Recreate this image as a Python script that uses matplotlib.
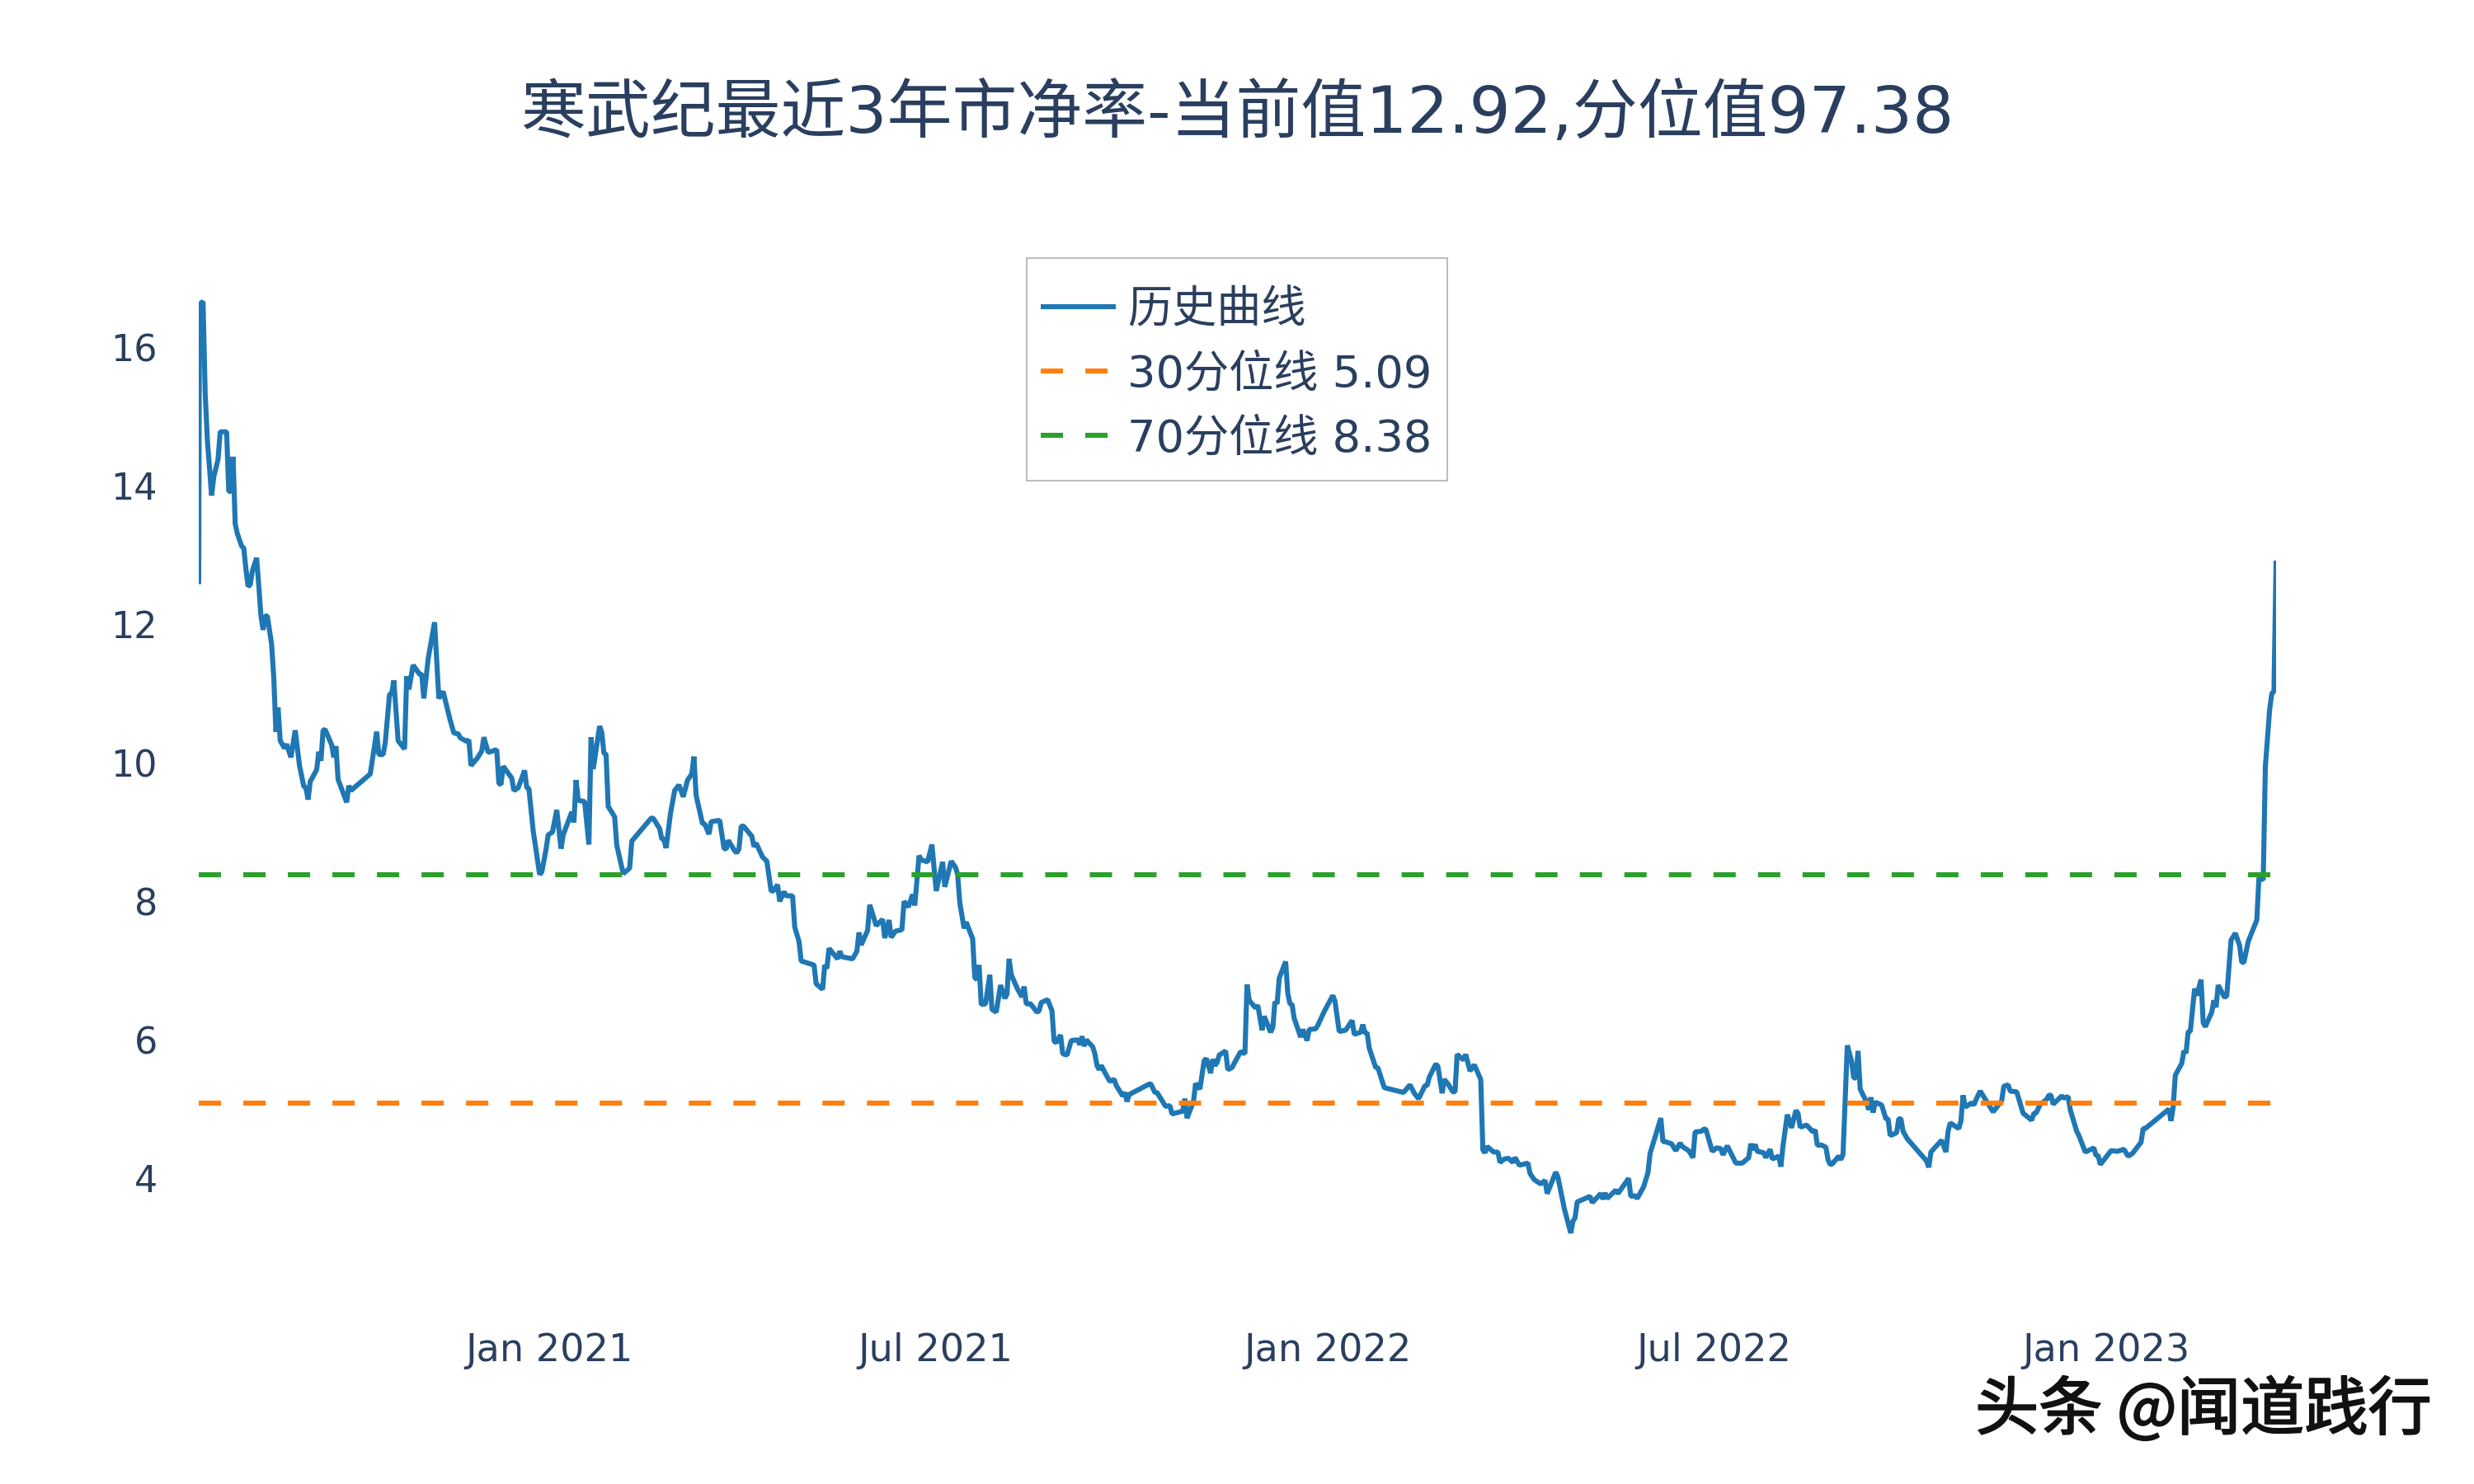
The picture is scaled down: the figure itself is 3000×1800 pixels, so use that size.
import numpy as np
import pandas as pd
import matplotlib
matplotlib.use("Agg")
import matplotlib.pyplot as plt
import matplotlib.patheffects as pe
from matplotlib.patches import Rectangle

# calendar days since listing
days = [0, 0.3, 1, 2, 3, 4, 6, 7, 9, 10, 13, 14, 15, 16, 17, 18, 20, 21, 22, 23, 24, 25, 27, 28, 29, 30, 31, 32, 34, 35, 36, 37, 38,
        40, 41, 43, 45, 47, 49, 50, 51, 52, 55, 56, 57, 58, 59, 62, 63, 64, 65, 69, 70, 71, 80, 83, 84, 86, 87, 89, 90, 91, 93, 96, 97, 98,
        100, 103, 104, 105, 107, 110, 112, 114, 117, 119, 121, 122, 125, 126, 127, 130, 132, 133, 135, 139, 140, 141, 142, 146, 147, 149,
        152, 153, 154, 156, 159, 160, 162, 163, 165, 167, 169, 170, 174, 175, 176, 177, 180, 182, 183, 184, 187, 188, 189, 190, 191, 194, 195, 198,
        201, 202, 211, 212, 215, 216, 217, 218,
        220, 222, 224, 226, 228, 230, 231, 232, 235, 236, 238, 239, 243, 245, 246, 247, 250, 251, 252, 253, 254, 258, 259, 260, 263, 265, 267, 268,
        270, 271, 273, 274, 277, 278, 280, 281, 287, 288, 291, 292, 293, 294, 298, 299, 300, 305, 307, 308, 309, 312, 313, 316, 319, 320, 322, 323, 325, 328, 329,
        331, 333, 334, 336, 337, 340, 342, 344, 347, 348, 351, 353, 354, 355, 357, 358, 361, 362, 363, 364, 365, 367, 369, 370, 372, 374, 376, 377, 378, 379,
        382, 384, 385, 386, 388, 391, 392, 393, 396, 398, 399, 400, 402, 403, 405, 407, 410, 411, 412, 413, 414, 417, 418, 419, 420, 421, 423, 425, 427, 428,
        431, 432, 433, 434, 442, 444, 446, 447, 448, 451, 453, 454, 459, 460, 461, 464, 465, 467, 469, 470, 472, 473, 474, 475, 476, 479, 480, 482, 483, 486, 488,
        489, 490, 493, 494, 495, 496, 497, 500, 501, 502, 503, 504, 507, 508, 509, 510, 511, 514, 515, 517, 518, 521, 522,
        525, 529, 530, 532, 535, 538, 539, 542, 543, 544, 545, 546, 549, 550, 553, 562, 565, 567, 569, 572, 573, 574, 577, 578, 580, 581, 583, 585, 586,
        587, 590, 591, 593, 595, 598, 599, 600, 601, 604, 606, 607, 609, 611, 613, 614, 616, 620, 621, 623, 626, 628, 629, 633, 634, 637, 640, 641, 642, 643,
        649, 650, 654, 655, 656, 657, 661, 662, 667, 668, 670, 671, 674, 676, 677, 682, 683, 684, 687, 689, 691, 692, 695, 697, 698, 701, 702, 703, 706, 708, 710, 711, 713,
        717, 720, 723, 724, 725, 726, 727, 730, 731, 733, 734, 737, 738, 739, 741, 743, 745, 746, 747, 750, 753, 754, 755, 757, 759, 760, 761, 762, 765, 766, 767,
        769, 771, 772, 773, 774, 775, 778, 779, 780, 781, 782, 785, 787, 788, 789, 790,
        792, 793, 794, 795, 797, 806, 807, 808, 810, 813, 815, 816, 817, 821, 822, 823, 824, 827, 828, 830, 831, 837, 841, 842, 844, 845, 848, 851, 855, 856, 857, 859,
        862, 863, 864, 865, 869, 870, 872, 873, 876, 877, 880, 884, 885, 886, 887, 892, 895, 898, 900, 902, 906, 907, 908, 919, 920, 921, 922, 925, 926, 927, 928, 929,
        931, 932, 934, 935, 936, 939, 940, 941, 942, 945, 946, 948, 950, 952, 953, 954, 956, 960, 961, 963, 964, 966, 967, 968, 969]
pb = [12.58, 16.28, 16.64, 16.66, 15.34, 14.67, 13.86, 14.13, 14.38, 14.78, 14.78, 13.92, 13.92, 14.42, 13.45, 13.31, 13.13, 13.10, 12.80, 12.55, 12.57, 12.77, 12.96, 12.56, 12.13, 11.92, 12.12, 12.12, 11.71, 11.23, 10.45, 10.80, 10.32,
      10.21, 10.27, 10.08, 10.47, 9.96, 9.66, 9.64, 9.47, 9.73, 9.90, 10.16, 10.03, 10.47, 10.48, 10.26, 10.08, 10.24, 9.76, 9.43, 9.67, 9.60, 9.84, 10.45, 10.12, 10.12, 10.29, 10.99, 11.00, 11.19, 10.32, 10.20, 11.25, 11.06,
      11.41, 11.28, 11.28, 10.93, 11.50, 12.03, 10.93, 11.03, 10.65, 10.43, 10.42, 10.36, 10.31, 10.33, 9.96, 10.07, 10.17, 10.37, 10.15, 10.19, 9.70, 9.69, 9.95, 9.78, 9.60, 9.64,
      9.89, 9.64, 9.63, 9.02, 8.39, 8.42, 8.75, 8.96, 9.00, 9.32, 8.76, 8.96, 9.29, 9.14, 9.75, 9.46, 9.44, 8.82, 10.37, 9.91, 10.53, 10.44, 10.14, 10.12, 9.37, 9.22, 8.81, 8.40,
      8.48, 8.87, 9.20, 9.20, 9.05, 8.90, 8.90, 8.77,
      9.26, 9.60, 9.68, 9.51, 9.75, 9.84, 10.09, 9.53, 9.12, 9.12, 8.97, 9.15, 9.17, 8.77, 8.75, 8.88, 8.73, 8.70, 8.76, 9.08, 9.09, 8.94, 8.79, 8.84, 8.64, 8.58, 8.15, 8.15,
      8.24, 8.00, 8.14, 8.08, 8.08, 7.63, 7.42, 7.14, 7.08, 6.81, 6.73, 7.08, 7.03, 7.32, 7.17, 7.28, 7.20, 7.17, 7.28, 7.55, 7.37, 7.58, 7.95, 7.65, 7.74, 7.47, 7.73, 7.48, 7.57, 7.59, 8.00,
      7.92, 8.10, 7.94, 8.66, 8.60, 8.57, 8.82, 8.15, 8.57, 8.21, 8.58, 8.49, 8.39, 7.98, 7.61, 7.70, 7.46, 6.90, 6.87, 7.08, 6.51, 6.52, 6.94, 6.44, 6.40, 6.79, 6.60, 6.66, 7.17, 6.94,
      6.73, 6.62, 6.77, 6.52, 6.52, 6.40, 6.42, 6.54, 6.58, 6.42, 5.98, 5.96, 6.07, 5.80, 5.78, 5.99, 6.00, 5.93, 6.05, 5.91, 6.00, 5.90, 5.80, 5.63, 5.57, 5.63, 5.51, 5.40, 5.43, 5.34,
      5.19, 5.24, 5.11, 5.21, 5.34, 5.37, 5.24, 5.24, 5.19, 5.04, 5.05, 4.93, 4.97, 5.15, 4.87, 5.11, 5.37, 5.29, 5.70, 5.73, 5.52, 5.72, 5.63, 5.67, 5.78, 5.84, 5.57, 5.60, 5.66, 5.83, 5.80,
      6.80, 6.57, 6.46, 6.50, 6.32, 6.14, 6.34, 6.11, 6.18, 6.55, 6.52, 6.89, 7.13, 6.67, 6.52, 6.51, 6.31, 6.04, 6.15, 5.99, 6.15, 6.16, 6.21,
      6.41, 6.64, 6.56, 6.12, 6.14, 6.28, 6.08, 6.11, 6.22, 6.10, 6.10, 5.88, 5.60, 5.60, 5.31, 5.24, 5.35, 5.23, 5.15, 5.34, 5.34, 5.46, 5.65, 5.62, 5.23, 5.43, 5.35, 5.25, 5.25,
      5.79, 5.71, 5.79, 5.55, 5.64, 5.43, 4.41, 4.37, 4.46, 4.38, 4.38, 4.23, 4.28, 4.29, 4.23, 4.30, 4.19, 4.22, 4.07, 3.98, 3.92, 3.97, 3.78, 4.09, 4.02, 3.56, 3.21, 3.38, 3.43, 3.66,
      3.74, 3.65, 3.78, 3.70, 3.79, 3.71, 3.83, 3.78, 4.00, 3.74, 3.75, 3.71, 3.88, 4.08, 4.36, 4.87, 4.53, 4.53, 4.50, 4.40, 4.51, 4.46, 4.40, 4.30, 4.67, 4.68, 4.71, 4.71, 4.39, 4.44, 4.43, 4.34, 4.47,
      4.22, 4.22, 4.30, 4.50, 4.41, 4.49, 4.39, 4.37, 4.30, 4.42, 4.28, 4.32, 4.17, 4.47, 4.92, 4.73, 4.98, 4.94, 4.74, 4.77, 4.67, 4.70, 4.48, 4.48, 4.45, 4.27, 4.20, 4.21, 4.32, 4.27, 4.35,
      5.92, 5.69, 5.45, 5.45, 5.84, 5.29, 5.10, 4.99, 5.17, 4.95, 5.10, 5.06, 4.86, 4.86, 4.62, 4.63,
      4.66, 4.86, 4.86, 4.68, 4.57, 4.25, 4.16, 4.38, 4.45, 4.55, 4.38, 4.68, 4.80, 4.72, 4.83, 5.20, 5.03, 5.09, 5.06, 5.20, 5.26, 4.96, 5.12, 5.33, 5.35, 5.26, 5.25, 4.94, 4.84, 4.94, 4.94, 5.07,
      5.14, 5.20, 5.20, 5.07, 5.19, 5.16, 5.18, 4.99, 4.68, 4.62, 4.38, 4.44, 4.33, 4.33, 4.20, 4.40, 4.39, 4.42, 4.32, 4.36, 4.52, 4.72, 4.72, 5.00, 4.83, 5.03, 5.49, 5.66, 5.84, 5.81, 6.12, 6.12,
      6.74, 6.64, 6.87, 6.25, 6.19, 6.40, 6.57, 6.47, 6.79, 6.61, 6.64, 7.44, 7.54, 7.36, 7.12, 7.12, 7.42, 7.73, 8.34, 8.31, 9.95, 10.77, 11.00, 11.03, 12.92]

p30 = 5.09
p70 = 8.38
title = "寒武纪最近3年市净率-当前值12.92,分位值97.38"
legend_labels = ["历史曲线", "30分位线 5.09", "70分位线 8.38"]
xtick_dates = ["2021-01-01", "2021-07-01", "2022-01-01", "2022-07-01", "2023-01-01"]
xtick_labels = ["Jan 2021", "Jul 2021", "Jan 2022", "Jul 2022", "Jan 2023"]
ytick_vals = [4, 6, 8, 10, 12, 14, 16]

W, H = 3000, 1800
INK = "#2a3f5f"
LW = 2.2

dates = pd.Timestamp("2020-07-20") + pd.to_timedelta(np.array(days) * 1.0054 + 0.58, unit="D")

fig = plt.figure(figsize=(W / 200, H / 200), dpi=200, facecolor="white")
left, right, top, bottom = 241, 2760, 302, 1562
ax = fig.add_axes([left / W, 1 - bottom / H, (right - left) / W, (bottom - top) / H])

ax.plot(dates, pb, color="#1f77b4", lw=LW, solid_joinstyle="bevel", solid_capstyle="butt", label=legend_labels[0])
dash = (0, (4.42, 4.42))
ax.plot(dates[[0, -1]], [p30, p30], color="#ff7f0e", lw=LW, ls=dash, dash_capstyle="butt", label=legend_labels[1])
ax.plot(dates[[0, -1]], [p70, p70], color="#2ca02c", lw=LW, ls=dash, dash_capstyle="butt", label=legend_labels[2])

ax.set_xlim(dates[0], dates[-1])
ax.set_ylim(2.42, 17.42)
ax.set_xticks(pd.to_datetime(xtick_dates))
ax.set_xticklabels(xtick_labels)
ax.set_yticks(ytick_vals)
ax.tick_params(axis="both", length=0, labelcolor=INK)
ax.tick_params(axis="x", pad=19.5, labelsize=16.6)
ax.tick_params(axis="y", pad=18, labelsize=16)
for s in ax.spines.values():
    s.set_visible(False)

# legend frame drawn apart so its padding can differ from the row padding
frame = Rectangle((1245 / W, 1 - 583 / H), 510 / W, 270 / H, transform=fig.transFigure, clip_on=False,
                  facecolor="white", edgecolor="#b0b0b0", linewidth=0.6, zorder=4)
ax.add_patch(frame)
leg = ax.legend(loc="upper left", bbox_to_anchor=(1262 / W, 1 - 350 / H), bbox_transform=fig.transFigure,
                borderaxespad=0, frameon=False,
                prop={"family": ["DejaVu Sans", "Noto Sans CJK SC"], "size": 19.5},
                labelcolor=INK, handlelength=1.68, handletextpad=0.26, labelspacing=0.48, borderpad=0)
leg.set_zorder(5)

fig.text(1500 / W, 1 - 139 / H, title, ha="center", va="center", color=INK, fontsize=28.4,
         family=["DejaVu Sans", "Noto Sans CJK SC"])
wm = fig.text(2672 / W, 1 - 1712 / H, "头条 @闻道践行", ha="center", va="center", color="#111111", fontsize=27.8,
              family=["Noto Sans CJK SC", "DejaVu Sans"])
wm.set_path_effects([pe.withStroke(linewidth=0.7, foreground="#111111")])

fig.savefig("out.png", dpi=200, facecolor="white")
